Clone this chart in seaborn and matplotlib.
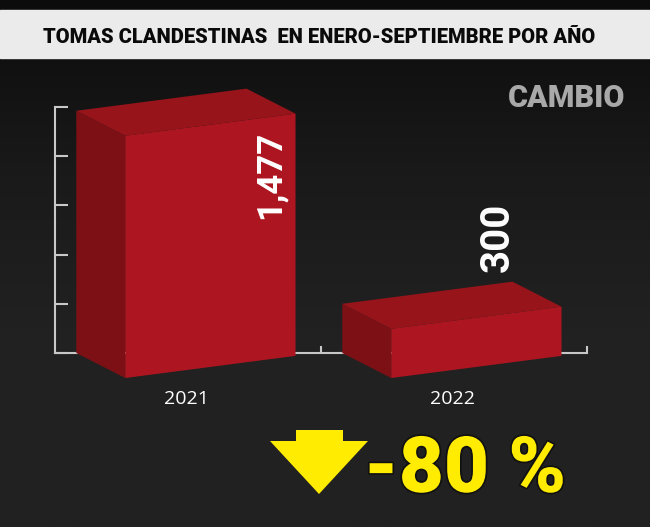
import numpy as np
import matplotlib
matplotlib.use("Agg")
import matplotlib.pyplot as plt
import matplotlib.patheffects as pe
from matplotlib.patches import Polygon, Rectangle
from matplotlib.colors import LinearSegmentedColormap
import seaborn as sns

# Data
years = ["2021", "2022"]
tomas = [1477, 300]
value_labels = ["1,477", "300"]
title = "TOMAS CLANDESTINAS  EN ENERO-SEPTIEMBRE POR AÑO"
change = "-80 %"

# Layout / style
W, H = 650, 527
FRONT, SIDE, TOP = "#ad1620", "#7d1015", "#96141a"
AXIS = "#c8c8c8"
YELLOW = "#ffec00"
depth = (49, -25)      # offset of front face, pixels
skew = 0.13            # perspective tilt, px up per px right
label_x = [0.41, 1.265]
label_y = [1085, 707]
label_size = [25, 29]

sns.set_style("ticks", {"axes.facecolor": "none"})
plt.rcParams["font.family"] = ["Roboto", "DejaVu Sans"]

fig = plt.figure(figsize=(W / 100, H / 100), dpi=100)
fig.patch.set_facecolor("#1f1f1f")

# dark background
bg = fig.add_axes([0, 0, 1, 1], zorder=-10)
grad = np.linspace(0, 1, 256).reshape(-1, 1)
cmap = LinearSegmentedColormap.from_list("bg", ["#0c0c0c", "#1a1a1a", "#222222", "#212121"])
bg.imshow(grad, aspect="auto", cmap=cmap, extent=[0, 1, 0, 1])
bg.axis("off")

# title band
fig.add_artist(Rectangle((0, 1 - 58 / H), 1, 48 / H, transform=fig.transFigure,
                         color="#ebebeb", zorder=1))
fig.text(319 / W, 1 - 43 / H, title, ha="center", va="baseline", fontsize=14.5,
         weight="heavy", color="#0a0a0a", zorder=2)

fig.text(625 / W, 1 - 107 / H, "CAMBIO", ha="right", va="baseline", fontsize=22,
         weight="black", color="#a9a9a9")

# chart
ax = fig.add_axes([55 / W, (H - 353) / H, 532 / W, (353 - 107) / H])
sns.barplot(x=years, y=tomas, ax=ax, width=0.64, color=FRONT)
ax.set_xlim(-0.4, 1.6)
ax.set_ylim(0, 1500)
ax.set_xlabel("")
ax.set_ylabel("")

for s in ["top", "right"]:
    ax.spines[s].set_visible(False)
for s in ["left", "bottom"]:
    ax.spines[s].set_color(AXIS)
    ax.spines[s].set_linewidth(1.5)

ax.set_yticks(np.arange(0, 1501, 300))
ax.tick_params(axis="y", direction="in", length=9, width=1.5, color=AXIS, labelleft=False)
ax.set_xticks(np.arange(len(years)) + 0.094, years)
ax.set_xticks([0.6, 1.6], minor=True)
ax.tick_params(axis="x", which="major", length=0, pad=27, labelsize=14, labelcolor="white")
ax.tick_params(axis="x", which="minor", direction="in", length=5, width=1.5, color=AXIS)
for lbl in ax.get_xticklabels():
    lbl.set_family(["Open Sans", "DejaVu Sans"])

# turn flat bars into boxes
T = ax.transData
inv = T.inverted()
dx, dy = depth
for p in list(ax.patches):
    x0, w, h = p.get_x(), p.get_width(), p.get_height()
    (X0, Y0), (X1, _), (_, Y1) = T.transform([(x0, 0), (x0 + w, 0), (x0, h)])
    rise = skew * (X1 - X0)
    bl, br = np.array([X0, Y0]), np.array([X1, Y0 + rise])
    tl, tr = np.array([X0, Y1]), np.array([X1, Y1 + rise])
    d = np.array([dx, dy])
    faces = [
        ([bl, tl, tl + d, bl + d], SIDE),
        ([tl, tr, tr + d, tl + d], TOP),
        ([bl + d, br + d, tr + d, tl + d], FRONT),
    ]
    for pts, col in faces:
        ax.add_patch(Polygon(inv.transform(pts), closed=True, facecolor=col,
                             edgecolor="none", clip_on=False, zorder=3))
    p.set_visible(False)

for x, y, txt, fs in zip(label_x, label_y, value_labels, label_size):
    ax.text(x, y, txt, rotation=90, ha="center", va="center", fontsize=fs,
            weight="bold", color="white", zorder=5, clip_on=False)

# change indicator
arrow = [(296, 430), (343, 430), (343, 441), (368, 441), (319, 494), (270, 441), (296, 441)]
fig.add_artist(Polygon([(x / W, 1 - y / H) for x, y in arrow], closed=True,
                       transform=fig.transFigure, facecolor=YELLOW, edgecolor="none"))
fig.text(465 / W, 1 - 492 / H, change, ha="center", va="baseline", fontsize=56,
         weight="black", color=YELLOW,
         path_effects=[pe.withStroke(linewidth=2.5, foreground="#111111")])

fig.savefig("out.png", dpi=100, facecolor=fig.get_facecolor())
